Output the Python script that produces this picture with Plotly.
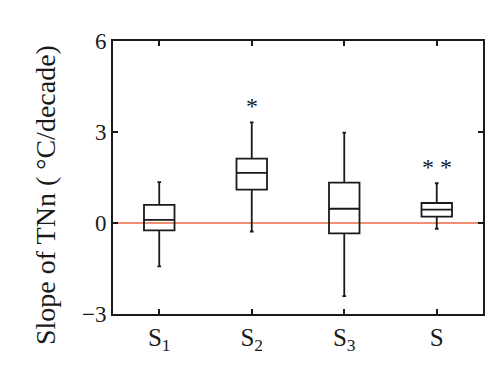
import plotly.graph_objects as go

categories = ["S<sub>1</sub>", "S<sub>2</sub>", "S<sub>3</sub>", "S"]
upper = [1.35, 3.32, 2.98, 1.31]
q3 = [0.60, 2.12, 1.33, 0.66]
median = [0.10, 1.65, 0.47, 0.44]
q1 = [-0.24, 1.10, -0.34, 0.21]
lower = [-1.43, -0.28, -2.41, -0.19]
marks = ["", "*", "", "* *"]
marks_y = [None, 3.85, None, 1.85]
y_ticks = [-3, 0, 3, 6]
y_title = "Slope of TNn ( \u00b0C/decade)"

xs = [1, 2, 3, 4]
font = "Liberation Serif, Times New Roman, serif"

fig = go.Figure()
fig.add_trace(go.Box(
    x=xs, q1=q1, median=median, q3=q3, lowerfence=lower, upperfence=upper,
    width=0.33, whiskerwidth=0.12, fillcolor="rgba(0,0,0,0)",
    line=dict(color="#1a1a1a", width=1.8), boxpoints=False, showlegend=False,
))
fig.add_shape(type="line", xref="x", yref="y", x0=0.5, x1=4.5, y0=0, y1=0,
              line=dict(color="#EE6A45", width=1.3), layer="below")
for x, m, y in zip(xs, marks, marks_y):
    if m:
        fig.add_annotation(x=x, y=y, text=m, showarrow=False,
                           font=dict(family=font, size=24, color="#1a1a1a"))
fig.add_annotation(xref="paper", yref="paper", x=-0.181, y=0.436, text=y_title,
                   textangle=-90, showarrow=False, xanchor="center", yanchor="middle",
                   font=dict(family=font, size=28, color="#1a1a1a"))

axis_common = dict(showgrid=False, zeroline=False, showline=True, linecolor="#1a1a1a",
                   linewidth=1.8, mirror="ticks", ticks="inside", ticklen=5,
                   tickcolor="#1a1a1a", tickwidth=1.8)
fig.update_xaxes(range=[0.5, 4.5], tickvals=xs, ticktext=categories,
                 tickfont=dict(family=font, size=25, color="#1a1a1a"), **axis_common)
fig.update_yaxes(range=[-3, 6], tickvals=y_ticks, ticktext=["\u22123", "0", "3", "6"],
                 tickfont=dict(family=font, size=23, color="#1a1a1a"), **axis_common)
fig.update_layout(width=500, height=367, margin=dict(l=105, r=25, t=33, b=61),
                  plot_bgcolor="white", paper_bgcolor="white")
fig.write_html("out.html")
